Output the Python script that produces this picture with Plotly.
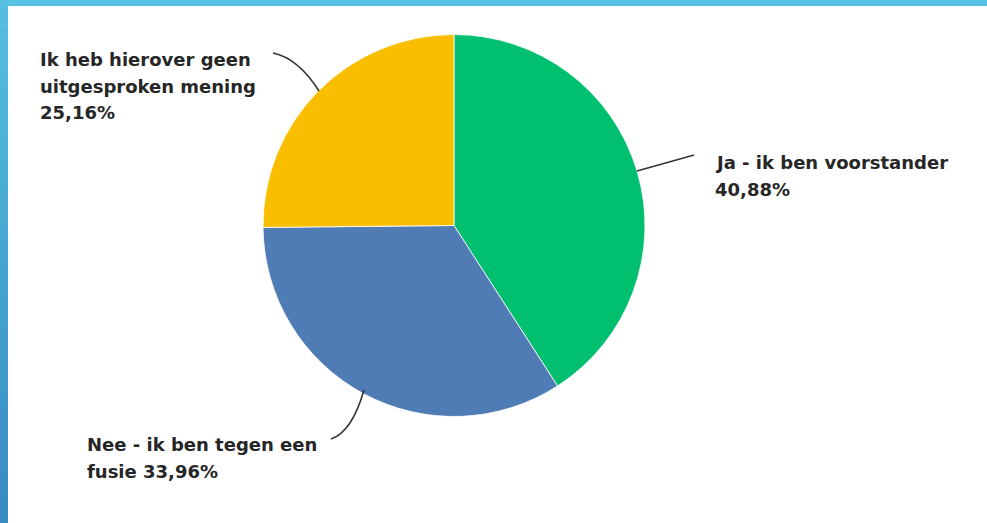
import textwrap
import plotly.graph_objects as go

# survey answers, clockwise from 12 o'clock
labels = ["Ja - ik ben voorstander", "Nee - ik ben tegen een fusie",
          "Ik heb hierover geen uitgesproken mening"]
values = [40.88, 33.96, 25.16]
colors = ["#00BF6F", "#507CB6", "#F9BE00"]
wrap_widths = [23, 22, 20]

W, H = 987, 523


def px(x, y):
    """pixel position -> paper coords"""
    return x / W, 1 - y / H


fig = go.Figure()

x0, y0 = px(263, 417)
x1, y1 = px(645, 34)
fig.add_trace(go.Pie(
    labels=labels,
    values=values,
    sort=False,
    direction="clockwise",
    rotation=0,
    marker=dict(colors=colors, line=dict(color="white", width=0.8)),
    textinfo="none",
    hoverinfo="none",
    showlegend=False,
    domain=dict(x=[x0, x1], y=[y0, y1]),
))

# label blocks: left x, centre y of first line, line step
label_pos = [(713, 162.5), (85, 444.5), (38, 60)]
line_step = 26.5

annotations = []
for lab, val, wrapw, (lx, ly) in zip(labels, values, wrap_widths, label_pos):
    txt = lab + " " + f"{val:.2f}".replace(".", ",") + "%"
    for i, line in enumerate(textwrap.wrap(txt, wrapw, break_on_hyphens=False)):
        ax, ay = px(lx, ly + i * line_step)
        annotations.append(dict(
            x=ax, y=ay, xref="paper", yref="paper",
            xanchor="left", yanchor="middle", showarrow=False,
            text=line,
            font=dict(family="DejaVu Sans", size=18, color="#262626", weight="bold"),
        ))

shapes = []
# frame: top band and left band with a vertical gradient
tx0, ty0 = px(0, 6)
shapes.append(dict(type="rect", xref="paper", yref="paper", x0=0, x1=1, y0=ty0, y1=1,
                   fillcolor="#56C1E1", line_width=0, layer="above"))
top_rgb = (0x54, 0xBF, 0xE0)
bot_rgb = (0x39, 0x8C, 0xBF)
n = 40
for i in range(n):
    t = i / (n - 1)
    c = tuple(round(a + (b - a) * t) for a, b in zip(top_rgb, bot_rgb))
    ya = 1 - i / n
    yb = 1 - (i + 1) / n
    shapes.append(dict(type="rect", xref="paper", yref="paper",
                       x0=0, x1=8 / W, y0=yb - 0.004, y1=ya,
                       fillcolor="rgb(%d,%d,%d)" % c, line_width=0, layer="above"))


def path(*pts):
    s = ""
    for cmd, p in pts:
        s += cmd + " ".join("%.5f,%.5f" % px(*q) for q in p) + " "
    return s.strip()


# leader lines
leaders = [
    path(("M", [(637, 171)]), ("L", [(694, 155)])),
    path(("M", [(364, 390)]), ("Q", [(352, 432), (331, 439)])),
    path(("M", [(273, 53)]), ("Q", [(298, 58), (319, 91)])),
]
for d in leaders:
    shapes.append(dict(type="path", xref="paper", yref="paper", path=d,
                       line=dict(color="#333333", width=1.6)))

fig.update_layout(
    width=W, height=H,
    margin=dict(l=0, r=0, t=0, b=0),
    paper_bgcolor="white",
    plot_bgcolor="white",
    annotations=annotations,
    shapes=shapes,
)

fig.write_html("out.html", config={"displayModeBar": False},
               post_script="document.body.style.margin='0';")
